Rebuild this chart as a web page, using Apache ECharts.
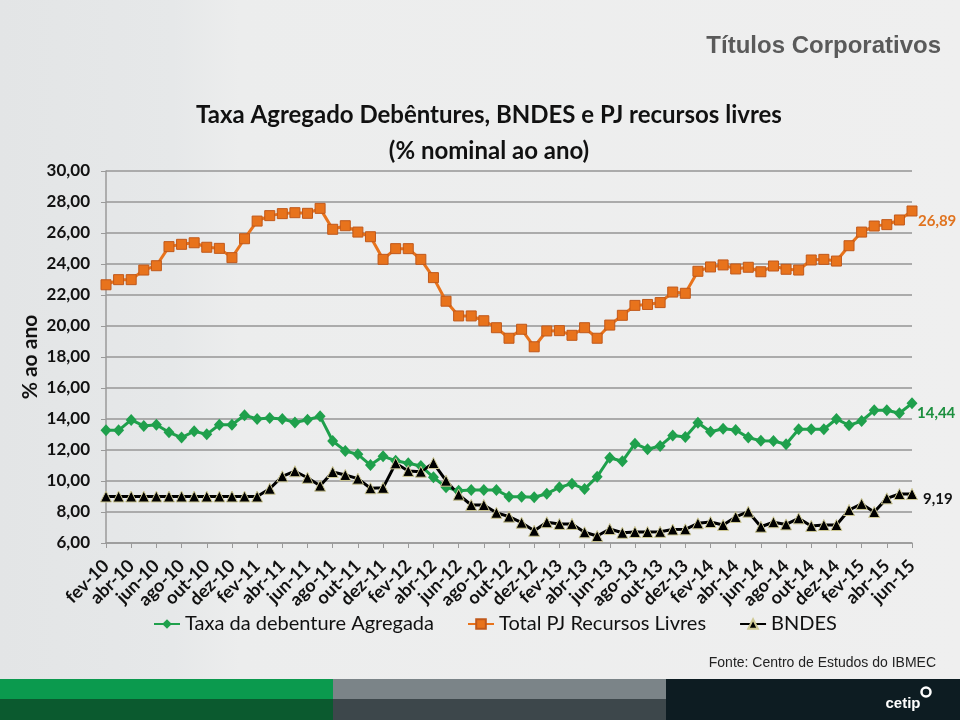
<!DOCTYPE html>
<html>
<head>
<meta charset="utf-8">
<script src="https://cdn.jsdelivr.net/npm/echarts@6/dist/echarts.min.js"></script>
<style>
html,body{margin:0;padding:0;background:#e9eaeb;}
#c{width:960px;height:720px;}
</style>
</head>
<body>
<div id="c"></div>
<script>
const categories = [
'fev-10','mar-10','abr-10','mai-10','jun-10','jul-10','ago-10','set-10','out-10','nov-10','dez-10',
'jan-11','fev-11','mar-11','abr-11','mai-11','jun-11','jul-11','ago-11','set-11','out-11','nov-11','dez-11',
'jan-12','fev-12','mar-12','abr-12','mai-12','jun-12','jul-12','ago-12','set-12','out-12','nov-12','dez-12',
'jan-13','fev-13','mar-13','abr-13','mai-13','jun-13','jul-13','ago-13','set-13','out-13','nov-13','dez-13',
'jan-14','fev-14','mar-14','abr-14','mai-14','jun-14','jul-14','ago-14','set-14','out-14','nov-14','dez-14',
'jan-15','fev-15','mar-15','abr-15','mai-15','jun-15'
];

const debentureAgregada = [
13.27,13.27,13.94,13.55,13.63,13.14,12.80,13.21,13.01,13.63,13.63,
14.24,14.00,14.06,14.00,13.78,13.95,14.17,12.58,11.94,11.72,11.03,11.59,
11.31,11.14,10.97,10.24,9.59,9.37,9.42,9.42,9.42,8.99,8.99,8.95,
9.18,9.59,9.83,9.48,10.28,11.50,11.27,12.41,12.05,12.26,12.94,12.84,
13.76,13.18,13.37,13.29,12.80,12.60,12.58,12.37,13.34,13.34,13.34,14.00,
13.59,13.87,14.56,14.56,14.37,15.01
];

const totalPJLivres = [
22.66,22.99,22.99,23.61,23.89,25.12,25.27,25.37,25.08,25.01,24.41,
25.63,26.77,27.12,27.25,27.31,27.27,27.59,26.24,26.47,26.06,25.76,24.30,
24.99,24.99,24.30,23.12,21.60,20.65,20.65,20.34,19.89,19.21,19.79,18.66,
19.68,19.70,19.40,19.89,19.21,20.06,20.69,21.33,21.39,21.51,22.19,22.11,
23.53,23.81,23.94,23.68,23.79,23.50,23.87,23.66,23.61,24.26,24.30,24.19,
25.18,26.06,26.45,26.54,26.84,27.42
];

const bndes = [
9.00,9.00,9.00,9.00,9.00,9.00,9.00,9.00,9.00,9.00,9.00,
9.00,9.00,9.50,10.30,10.63,10.21,9.70,10.58,10.39,10.15,9.53,9.56,
11.14,10.65,10.60,11.16,10.02,9.12,8.45,8.45,7.95,7.70,7.31,6.79,
7.34,7.23,7.23,6.69,6.45,6.90,6.66,6.71,6.71,6.72,6.87,6.88,
7.27,7.35,7.16,7.68,8.02,7.05,7.34,7.20,7.59,7.10,7.16,7.16,
8.13,8.52,8.00,8.88,9.16,9.16
];

const seriesNames = ['Taxa da debenture Agregada','Total PJ Recursos Livres','BNDES'];
const endLabels = ['14,44','26,89','9,19'];

const chart = echarts.init(document.getElementById('c'), null, {renderer:'canvas'});
const FONT = 'Lato, "Liberation Sans", sans-serif';

const option = {
  animation:false,
  backgroundColor:{
    type:'linear', x:0, y:0, x2:1, y2:0,
    colorStops:[{offset:0,color:'#e3e5e6'},{offset:0.18,color:'#e6e8e9'},{offset:0.25,color:'#eceded'},{offset:1,color:'#efefef'}]
  },
  textStyle:{fontFamily:FONT},
  grid:{left:106,right:48,top:171,bottom:177,containLabel:false},
  legend:{
    left:148, top:609, itemGap:33, itemWidth:26, itemHeight:12,
    textStyle:{fontFamily:FONT,fontSize:20,color:'#111'},
    data:seriesNames
  },
  xAxis:{
    type:'category', boundaryGap:false, data:categories,
    axisLine:{lineStyle:{color:'#9a9a9a',width:1.5}},
    axisTick:{show:true,interval:1,length:5,lineStyle:{color:'#9a9a9a'}},
    axisLabel:{interval:1,rotate:45,margin:20,fontFamily:FONT,fontWeight:'bold',fontSize:18,color:'#111'}
  },
  yAxis:{
    type:'value', min:6, max:30, interval:2,
    axisLine:{show:true,lineStyle:{color:'#9a9a9a',width:1.5}},
    axisTick:{show:true,length:5,lineStyle:{color:'#9a9a9a'}},
    splitLine:{lineStyle:{color:'#ababab',width:2}},
    axisLabel:{margin:16,fontFamily:FONT,fontWeight:'bold',fontSize:17,color:'#111',
      formatter:v=>v.toFixed(2).replace('.',',')}
  },
  series:[
    {
      name:seriesNames[0], type:'line', data:debentureAgregada,
      symbol:'diamond', symbolSize:[11,12], showAllSymbol:true,
      lineStyle:{color:'#1fa04c',width:3},
      itemStyle:{color:'#1fa04c',borderColor:'#1fa04c',borderWidth:0},
      endLabel:{show:true,formatter:()=>endLabels[0],offset:[-3,10],fontFamily:FONT,fontWeight:'bold',fontSize:15,color:'#1c8f3e'},
      z:3
    },
    {
      name:seriesNames[1], type:'line', data:totalPJLivres,
      symbol:'rect', symbolSize:10, showAllSymbol:true,
      lineStyle:{color:'#e8731c',width:3},
      itemStyle:{color:'#e8731c',borderColor:'#c0581a',borderWidth:1},
      endLabel:{show:true,formatter:()=>endLabels[1],offset:[-2,10],fontFamily:FONT,fontWeight:'bold',fontSize:15,color:'#e0731f'},
      z:3
    },
    {
      name:seriesNames[2], type:'line', data:bndes,
      symbol:'triangle', symbolSize:11, showAllSymbol:true,
      lineStyle:{color:'#000',width:3},
      itemStyle:{color:'#000',borderColor:'#cfc995',borderWidth:1},
      endLabel:{show:true,formatter:()=>endLabels[2],offset:[3,5],fontFamily:FONT,fontWeight:'bold',fontSize:15,color:'#111'},
      z:3
    }
  ],
  graphic:[
    {type:'text',x:941,y:46,style:{text:'Títulos Corporativos',font:'bold 24px "Liberation Sans Narrow","Liberation Sans",Arial,sans-serif',fill:'#5a5a5a',textAlign:'right',textVerticalAlign:'middle'}},
    {type:'text',x:489,y:115,style:{text:'Taxa Agregado Debêntures, BNDES e PJ recursos livres',font:'bold 24px '+FONT,fill:'#111',textAlign:'center',textVerticalAlign:'middle'}},
    {type:'text',x:489,y:151,style:{text:'(% nominal ao ano)',font:'bold 24px '+FONT,fill:'#111',textAlign:'center',textVerticalAlign:'middle'}},
    {type:'text',x:30,y:357,rotation:Math.PI/2,style:{text:'% ao ano',font:'bold 21px '+FONT,fill:'#111',textAlign:'center',textVerticalAlign:'middle'}},
    {type:'text',x:936,y:663,style:{text:'Fonte: Centro de Estudos do IBMEC',font:'14px "Liberation Sans Narrow","Liberation Sans",Arial,sans-serif',fill:'#222',textAlign:'right',textVerticalAlign:'middle'}},
    {type:'rect',shape:{x:0,y:679,width:333,height:20},style:{fill:'#0b9a4e'},silent:true},
    {type:'rect',shape:{x:0,y:699,width:333,height:21},style:{fill:'#0b5a2f'},silent:true},
    {type:'rect',shape:{x:333,y:679,width:333,height:20},style:{fill:'#7b8488'},silent:true},
    {type:'rect',shape:{x:333,y:699,width:333,height:21},style:{fill:'#3d474b'},silent:true},
    {type:'rect',shape:{x:666,y:679,width:294,height:41},style:{fill:'#0d1c22'},silent:true},
    {type:'text',x:903,y:704,style:{text:'cetip',font:'bold 15px "Liberation Sans",Arial,sans-serif',fill:'#ffffff',textAlign:'center',textVerticalAlign:'middle'}},
    {type:'circle',shape:{cx:926,cy:692,r:4.5},style:{fill:'none',stroke:'#ffffff',lineWidth:2.5},silent:true}
  ]
};
chart.setOption(option);
</script>
</body>
</html>
